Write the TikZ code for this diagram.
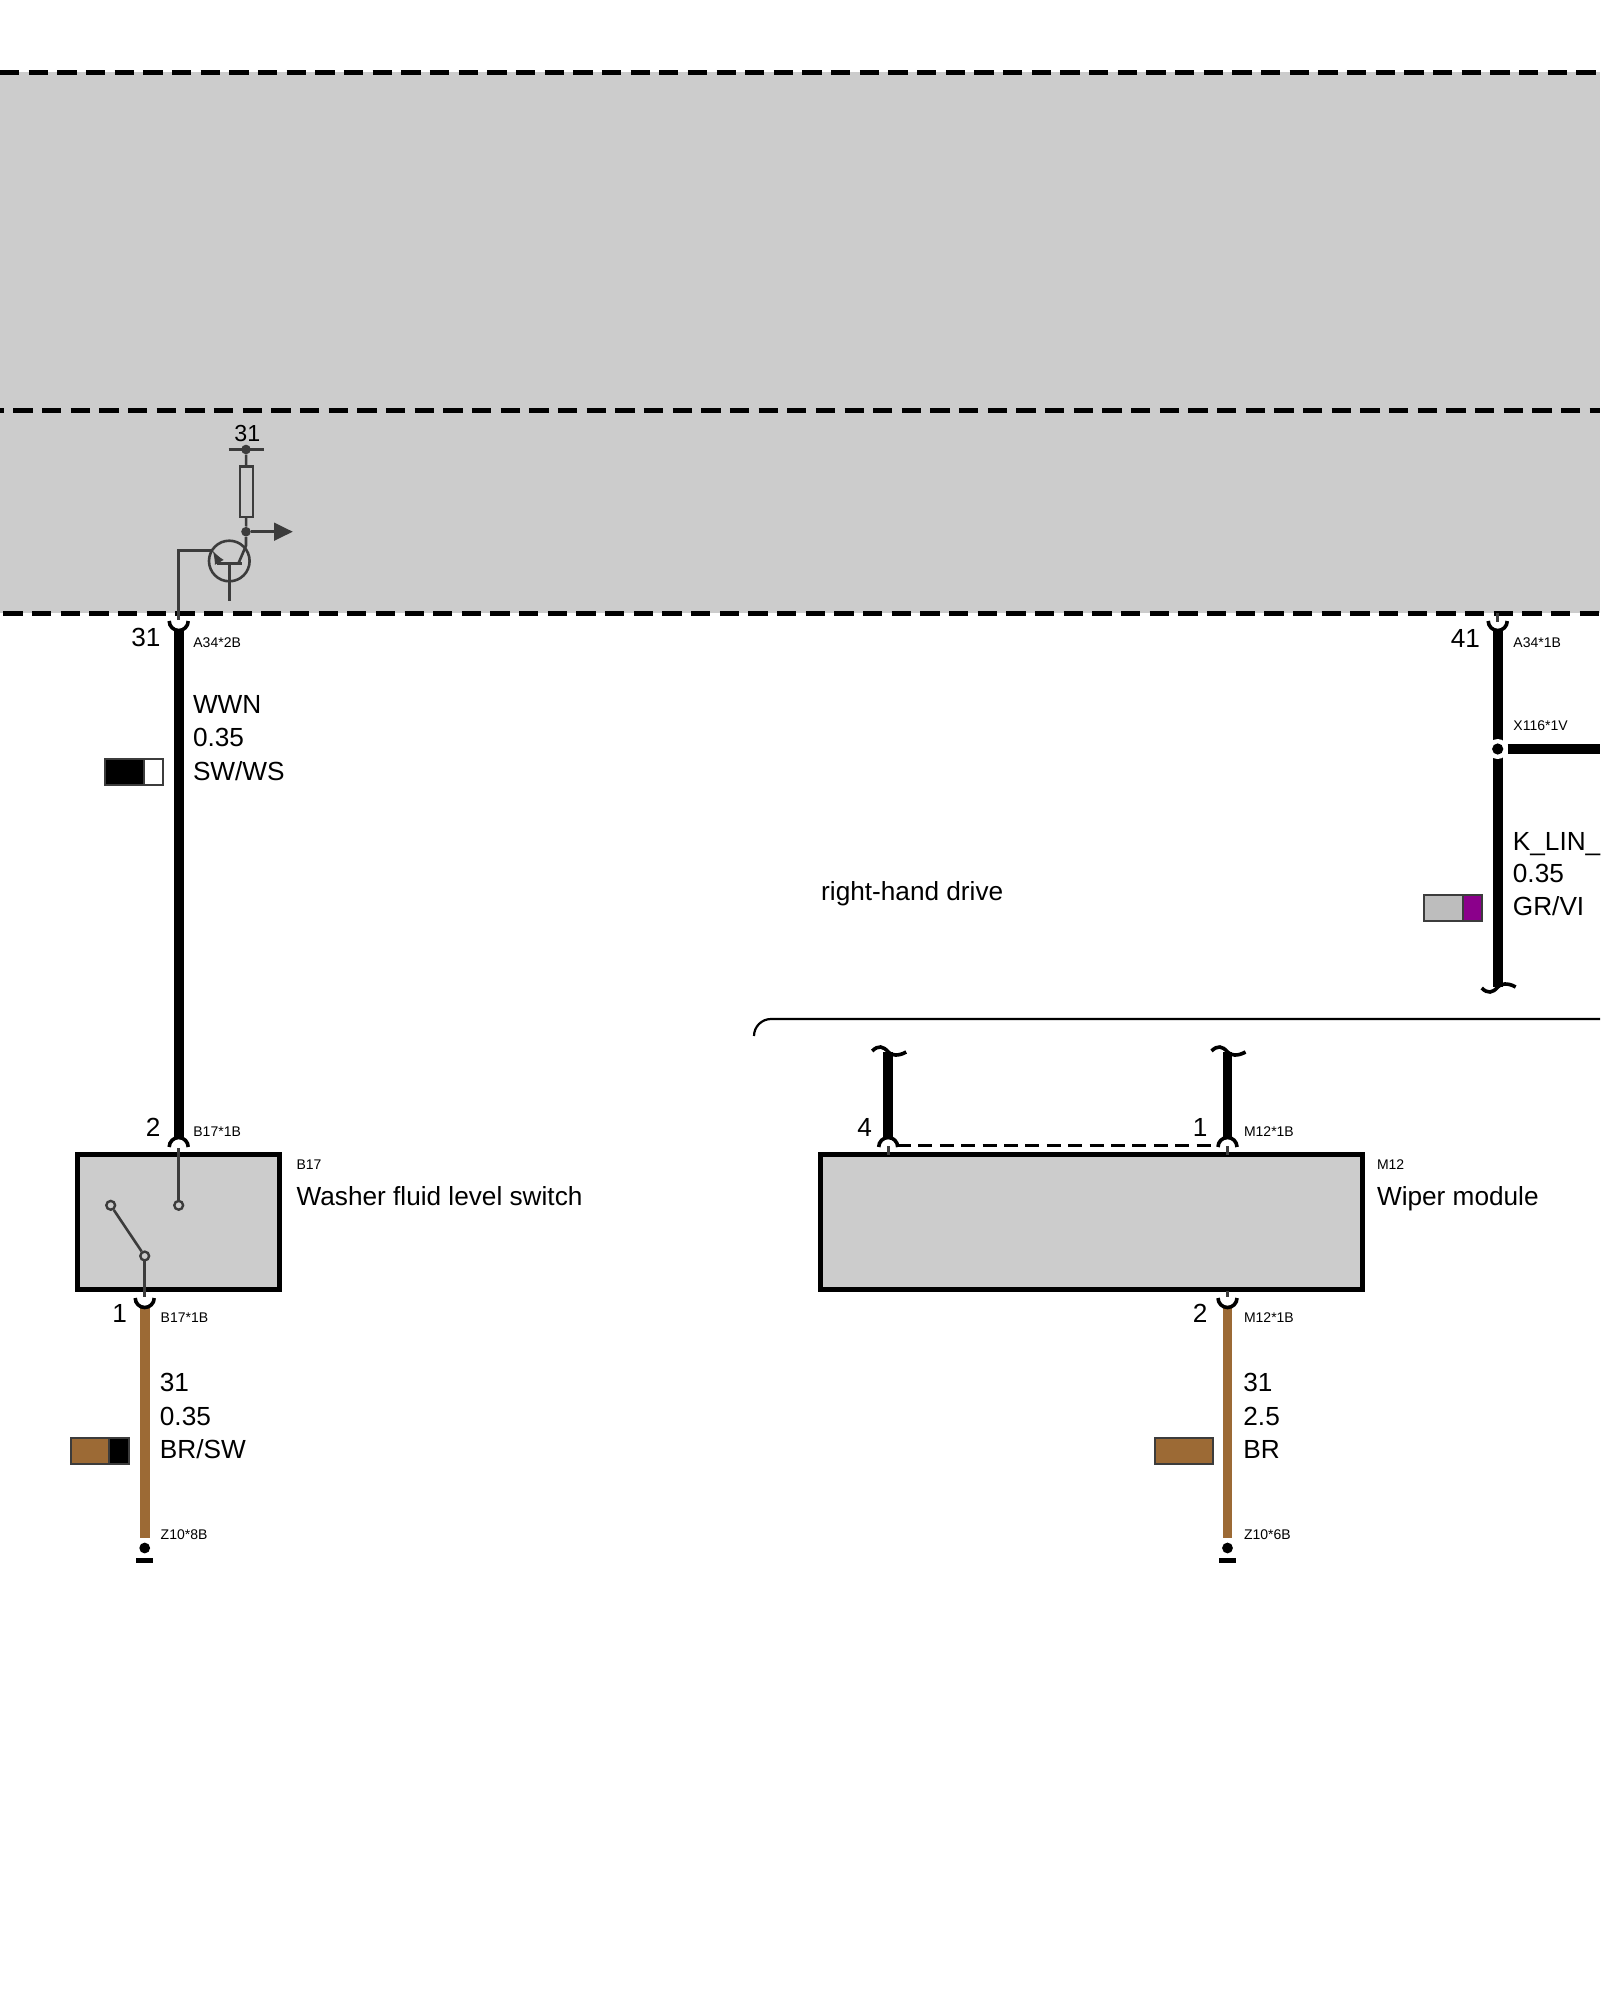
\documentclass[tikz,border=0pt]{standalone}
\usepackage{fontspec}
\setmainfont{Liberation Sans}
\definecolor{boxgray}{HTML}{CCCCCC}
\definecolor{wirebrown}{HTML}{9C6A35}
\definecolor{symgray}{HTML}{3C3C3C}
\definecolor{taggray}{HTML}{BDBDBD}
\definecolor{tagviolet}{HTML}{8B008B}
\tikzset{>=latex,
  lab/.style={font=\fontsize{13.1}{15}\selectfont,anchor=base west,inner sep=0pt},
  tinylab/.style={font=\fontsize{7}{8}\selectfont,anchor=base west,inner sep=0pt},
  frameline/.style={line width=2.25pt,dash pattern=on 9.65pt off 4.68pt},
  wireblack/.style={line width=4.9pt,black},
  wirebr/.style={line width=4.9pt,wirebrown},
  cup/.style={line width=1.8pt,black},
  sym/.style={line width=1.3pt,symgray},
  modulebox/.style={draw=black,line width=2.4pt,fill=boxgray},
  tagbox/.style={draw=symgray,line width=1.1pt,minimum height=13pt,inner sep=0pt,outer sep=0pt,anchor=west},
  contact/.style={circle,draw=symgray,line width=1.2pt,fill=boxgray,minimum size=4.4pt,inner sep=0pt},
  symdot/.style={circle,fill=symgray,minimum size=4.8pt,inner sep=0pt},
}
\newcommand{\cupup}[1]{\draw[cup] (#1) ++(-9.5,-9) arc[start angle=180,end angle=360,radius=4.75pt];}
\newcommand{\cupdown}[1]{\draw[cup] (#1) ++(-9.5,9) arc[start angle=180,end angle=0,radius=4.75pt];}
\newcommand{\wirebreak}[2]{\draw[cup,shift={(#1)},yscale=#2] (-16,-1) .. controls (-10,-7) and (-5,-6) .. (0,0) .. controls (3,3.5) and (10,4.5) .. (18,0);}
\newcommand{\groundsym}[3]{
  \node[circle,fill=black,minimum size=5.4pt,inner sep=0pt] (#3dot) at (#1,#2) {};
  \node[fill=black,minimum width=8.7pt,minimum height=2.3pt,inner sep=0pt] (#3bar) at (#1,#2+12.3) {};
}
\begin{document}
\begin{tikzpicture}[x=0.5pt,y=-0.5pt]
  \clip (0,0) rectangle (1600,2000);
  \fill[boxgray] (0,72.5) rectangle (1600,613);
  \draw[frameline] (0,72.5) -- (1600,72.5);
  \draw[frameline,dash phase=7.65pt] (0,410.3) -- (1600,410.3);
  \draw[frameline,dash phase=12.7pt] (0,613.3) -- (1600,613.3);

  \coordinate (gnd) at (246,449.5);
  \coordinate (collector) at (246,545.7);
  \coordinate (A34twoB) at (178.7,630);
  \coordinate (A34oneB) at (1497.7,630);

  \node[symdot] (gnddot) at (gnd) {};
  \node[symdot] (outdot) at (246,531.7) {};
  \node[draw=symgray,line width=1.3pt,minimum width=6.5pt,minimum height=25pt,inner sep=0pt] (res) at (246.5,491.8) {};
  \node[draw=symgray,line width=1.3pt,circle,minimum size=20.3pt,inner sep=0pt] (tr) at (229.3,561) {};
  \coordinate (outtip) at (292.7,531.7);
  \draw[sym] (228.7,449.3) -- (264.3,449.3);
  \draw[sym] (gnddot) -- (res);
  \draw[sym] (res) -- (outdot);
  \draw[sym] (outdot) -- (collector) -- (238.3,563.7);
  \draw[sym] (216.7,563.7) -- (241.7,563.7);
  \draw[sym] (229.3,563.7) -- (229.3,601);
  \draw[sym,<-] (212.7,550.7) -- (220,563.7);
  \draw[sym] (212.7,550.7) -- (178.7,550.7) -- (178.7,620);
  \draw[sym] (outdot) -- (276,531.7);
  \fill[symgray] (outtip) -- (274,522.5) -- (274,540.9) -- cycle;
  \node[lab,font=\fontsize{11.6}{14}\selectfont] (gndlab) at (234,441.7) {31};

  \node[modulebox,minimum width=101.2pt,minimum height=67.6pt,inner sep=0pt] (B17) at (178.4,1222) {};
  \node[modulebox,minimum width=271pt,minimum height=67.6pt,inner sep=0pt] (M12) at (1091.7,1222) {};
  \coordinate (B17top) at (178.7,1138);
  \coordinate (B17bot) at (144.7,1307);
  \coordinate (B17end) at (144.7,1538);
  \coordinate (M12top) at (1227.5,1138);
  \coordinate (M12left) at (888.2,1138);
  \coordinate (M12bot) at (1227.5,1307);
  \coordinate (M12end) at (1227.5,1538);
  \coordinate (K3end) at (1497.7,987);
  \coordinate (M12lefttop) at (888.2,1052);
  \coordinate (M12toptop) at (1227.5,1052);

  \draw[wireblack] (A34twoB) -- (B17top);
  \draw[wireblack] (A34oneB) -- (K3end);
  \draw[wireblack] (M12lefttop) -- (M12left);
  \draw[wireblack] (M12toptop) -- (M12top);
  \draw[wirebr] (B17bot) -- (B17end);
  \draw[wirebr] (M12bot) -- (M12end);

  \cupup{A34twoB}
  \cupup{A34oneB}
  \cupdown{B17top}
  \cupdown{M12top}
  \cupdown{M12left}
  \cupup{B17bot}
  \cupup{M12bot}

  \draw[sym] (1497.7,613.3) -- (1497.7,622);
  \draw[sym] (178.7,1148) -- (178.7,1205.3);
  \draw[sym] (144.7,1256) -- (144.7,1297);
  \draw[sym] (888.2,1146) -- (888.2,1155);
  \draw[sym] (1227.5,1146) -- (1227.5,1155);
  \draw[sym] (1227.5,1291) -- (1227.5,1297);
  \draw[line width=1.1pt,dash pattern=on 7pt off 3.7pt] (897,1145.5) -- (1218,1145.5);

  \node[contact] (swa) at (178.7,1205.3) {};
  \node[contact] (swb) at (110.7,1205.3) {};
  \node[contact] (swc) at (144.7,1256) {};
  \draw[sym] (swb) -- (swc);

  \node[circle,fill=white,minimum size=10pt,inner sep=0pt] (X116ring) at (1497.7,749) {};
  \node[circle,fill=black,minimum size=5.6pt,inner sep=0pt] (X116) at (1497.7,749) {};
  \coordinate (X116east) at (1600,749);
  \draw[wireblack] (1507.7,749) -- (X116east);

  \wirebreak{K3end}{-1}
  \wirebreak{M12lefttop}{1}
  \wirebreak{M12toptop}{1}

  \draw[line width=1.1pt,black] (754,1036) arc[start angle=180,end angle=90,radius=8.5pt] -- (1600,1019);

  \groundsym{144.7}{1548}{Zeight}
  \groundsym{1227.5}{1548}{Zsix}

  \node[lab] (pinA) at (131,646.7) {31};
  \node[tinylab] (pinAlab) at (193,647.5) {A34*2B};
  \node[lab] (WWN) at (192.6,713.5) {WWN};
  \node[lab] (WWNa) at (192.6,746.5) {0.35};
  \node[lab] (WWNb) at (192.6,780) {SW/WS};
  \node[tagbox,fill=black,minimum width=19.7pt] (tagA) at (104.6,772) {};
  \node[tagbox,fill=white,minimum width=9.65pt] (tagB) at (tagA.east) {};

  \node[lab] (pinB) at (145.5,1136.5) {2};
  \node[tinylab] (pinBlab) at (193,1136.5) {B17*1B};
  \node[tinylab] (B17name) at (296.2,1169) {B17};
  \node[lab] (B17text) at (296.2,1205.3) {Washer fluid level switch};
  \node[lab] (pinC) at (112,1322) {1};
  \node[tinylab] (pinClab) at (160.3,1322) {B17*1B};
  \node[lab] (BRa) at (159.5,1391) {31};
  \node[lab] (BRb) at (159.5,1425) {0.35};
  \node[lab] (BRc) at (159.5,1458) {BR/SW};
  \node[tagbox,fill=wirebrown,minimum width=18.8pt] (tagC) at (71,1451) {};
  \node[tagbox,fill=black,minimum width=10.3pt] (tagD) at (tagC.east) {};
  \node[tinylab] (Zeightlab) at (160.3,1539) {Z10*8B};

  \node[lab] (pinD) at (1450.5,647.3) {41};
  \node[tinylab] (pinDlab) at (1513,647.5) {A34*1B};
  \node[tinylab] (X116lab) at (1513,730) {X116*1V};
  \node[lab] (KLIN) at (1512.5,850) {K\_LIN\_};
  \node[lab] (KLINa) at (1512.5,882.7) {0.35};
  \node[lab] (KLINb) at (1512.5,915.7) {GR/VI};
  \node[tagbox,fill=taggray,minimum width=19.7pt] (tagE) at (1423.7,908) {};
  \node[tagbox,fill=tagviolet,minimum width=9.6pt] (tagF) at (tagE.east) {};
  \node[lab] (rhd) at (820.8,900) {right-hand drive};

  \node[lab] (pinE) at (857,1136.5) {4};
  \node[lab] (pinF) at (1192.5,1136.5) {1};
  \node[tinylab] (pinFlab) at (1243.6,1136.5) {M12*1B};
  \node[tinylab] (M12name) at (1376.6,1169) {M12};
  \node[lab] (M12text) at (1376.6,1205.3) {Wiper module};
  \node[lab] (pinG) at (1192.5,1322) {2};
  \node[tinylab] (pinGlab) at (1243.6,1322) {M12*1B};
  \node[lab] (BRd) at (1243,1391) {31};
  \node[lab] (BRe) at (1243,1425) {2.5};
  \node[lab] (BRf) at (1243,1458) {BR};
  \node[tagbox,fill=wirebrown,minimum width=28.8pt] (tagG) at (1155,1451) {};
  \node[tinylab] (Zsixlab) at (1243.6,1539) {Z10*6B};
\end{tikzpicture}
\end{document}
